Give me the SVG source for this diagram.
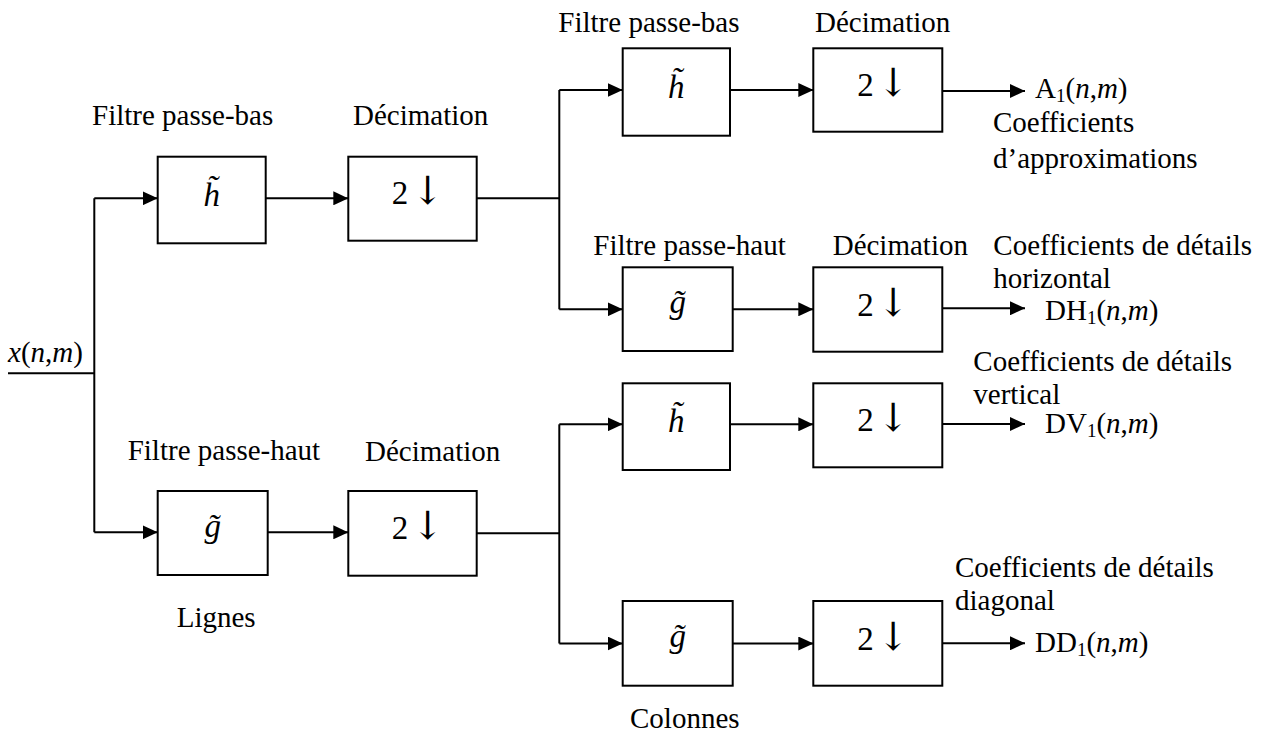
<svg xmlns="http://www.w3.org/2000/svg" width="1266" height="743" viewBox="0 0 1266 743">
<style>
text{font-family:"Liberation Serif","Times New Roman",serif;font-size:29px;fill:#000}
.i{font-style:italic}
.sub{font-size:19px}
.box{fill:#fff;stroke:#000;stroke-width:2}
.ln{fill:none;stroke:#000;stroke-width:2}
.sym{text-anchor:middle;font-size:33px}
.dec{font-size:33px}
.arr{font-family:"DejaVu Serif",serif;font-size:39px}
</style>
<defs>
<marker id="ah" markerWidth="15" markerHeight="14" refX="15" refY="7" orient="auto" markerUnits="userSpaceOnUse">
<path d="M0,0 L15,7 L0,14 Z" fill="#000"/>
</marker>
</defs>
<g id="connectors">
<path class="ln" d="M8,373.3 H94.3"/>
<path class="ln" d="M94.3,198.3 V532.3"/>
<path class="ln" d="M94.3,198.3 H157.7" marker-end="url(#ah)"/>
<path class="ln" d="M94.3,532.3 H157.7" marker-end="url(#ah)"/>
<path class="ln" d="M265.7,198.3 H348.3" marker-end="url(#ah)"/>
<path class="ln" d="M267.7,532.3 H348.3" marker-end="url(#ah)"/>
<path class="ln" d="M476.7,198.3 H559.3"/>
<path class="ln" d="M559.3,90 V309.3"/>
<path class="ln" d="M559.3,90 H622.7" marker-end="url(#ah)"/>
<path class="ln" d="M559.3,309.3 H622.7" marker-end="url(#ah)"/>
<path class="ln" d="M476.7,533.3 H559.3"/>
<path class="ln" d="M559.3,424.3 V643.5"/>
<path class="ln" d="M559.3,424.3 H622.7" marker-end="url(#ah)"/>
<path class="ln" d="M559.3,643.5 H622.7" marker-end="url(#ah)"/>
<path class="ln" d="M730,90 H813.3" marker-end="url(#ah)"/>
<path class="ln" d="M732.7,309.3 H813.3" marker-end="url(#ah)"/>
<path class="ln" d="M730,424.3 H813.3" marker-end="url(#ah)"/>
<path class="ln" d="M732.7,643.5 H813.3" marker-end="url(#ah)"/>
<path class="ln" d="M942.3,91 H1025" marker-end="url(#ah)"/>
<path class="ln" d="M942.3,308.3 H1025" marker-end="url(#ah)"/>
<path class="ln" d="M942.3,424 H1025" marker-end="url(#ah)"/>
<path class="ln" d="M942.3,643.3 H1025" marker-end="url(#ah)"/>
</g>
<g id="input">
<text x="8" y="362"><tspan class="i">x</tspan>(<tspan class="i">n</tspan>,<tspan class="i">m</tspan>)</text>
</g>
<g id="h1">
<text x="92" y="125">Filtre passe-bas</text>
<rect class="box" x="157.7" y="156.7" width="108" height="86.6"/>
<text class="sym i" x="211.7" y="206">h̃</text>
</g>
<g id="d1">
<text x="353" y="125">Décimation</text>
<rect class="box" x="348.3" y="156.7" width="128.4" height="84"/>
<text class="dec" x="391.7" y="204">2<tspan class="arr" dx="3">↓</tspan></text>
</g>
<g id="g1">
<text x="127.7" y="460">Filtre passe-haut</text>
<rect class="box" x="157.7" y="491" width="110" height="84"/>
<text class="sym i" x="212.7" y="537">g̃</text>
<text x="176.7" y="626.7">Lignes</text>
</g>
<g id="d2">
<text x="365" y="461">Décimation</text>
<rect class="box" x="348.3" y="491" width="128.4" height="84.7"/>
<text class="dec" x="391.7" y="539">2<tspan class="arr" dx="3">↓</tspan></text>
</g>
<g id="h2">
<text x="558.3" y="31.7">Filtre passe-bas</text>
<rect class="box" x="622.7" y="48.3" width="107.3" height="87.4"/>
<text class="sym i" x="676.3" y="98">h̃</text>
</g>
<g id="d3">
<text x="815" y="32">Décimation</text>
<rect class="box" x="813.3" y="48.3" width="129" height="83.4"/>
<text class="dec" x="857.3" y="96">2<tspan class="arr" dx="3">↓</tspan></text>
</g>
<g id="g2">
<text x="593.3" y="255">Filtre passe-haut</text>
<rect class="box" x="622.7" y="267.3" width="110" height="83.7"/>
<text class="sym i" x="677.7" y="313">g̃</text>
</g>
<g id="d4">
<text x="832.7" y="255">Décimation</text>
<rect class="box" x="813.3" y="267.3" width="129" height="84.4"/>
<text class="dec" x="857.3" y="316">2<tspan class="arr" dx="3">↓</tspan></text>
</g>
<g id="h3">
<rect class="box" x="622.7" y="383.3" width="107.3" height="86.7"/>
<text class="sym i" x="676.3" y="432">h̃</text>
</g>
<g id="d5">
<rect class="box" x="813.3" y="383.3" width="129" height="84"/>
<text class="dec" x="857.3" y="431">2<tspan class="arr" dx="3">↓</tspan></text>
</g>
<g id="g3">
<rect class="box" x="622.7" y="601" width="110" height="84.7"/>
<text class="sym i" x="677.7" y="647">g̃</text>
<text x="630" y="728">Colonnes</text>
</g>
<g id="d6">
<rect class="box" x="813.3" y="601" width="129" height="84.7"/>
<text class="dec" x="857.3" y="650">2<tspan class="arr" dx="3">↓</tspan></text>
</g>
<g id="out-a">
<text x="1035" y="98">A<tspan class="sub" dy="4">1</tspan><tspan dy="-4">(</tspan><tspan class="i">n</tspan>,<tspan class="i">m</tspan>)</text>
<text x="993" y="131.7">Coefficients</text>
<text x="993" y="167.7">d’approximations</text>
</g>
<g id="out-dh">
<text x="993.3" y="255">Coefficients de détails</text>
<text x="993.3" y="288">horizontal</text>
<text x="1045" y="320">DH<tspan class="sub" dy="4">1</tspan><tspan dy="-4">(</tspan><tspan class="i">n</tspan>,<tspan class="i">m</tspan>)</text>
</g>
<g id="out-dv">
<text x="973.3" y="370.7">Coefficients de détails</text>
<text x="973.3" y="404">vertical</text>
<text x="1045" y="433.3">DV<tspan class="sub" dy="4">1</tspan><tspan dy="-4">(</tspan><tspan class="i">n</tspan>,<tspan class="i">m</tspan>)</text>
</g>
<g id="out-dd">
<text x="955" y="576.7">Coefficients de détails</text>
<text x="955" y="610">diagonal</text>
<text x="1035" y="651.7">DD<tspan class="sub" dy="4">1</tspan><tspan dy="-4">(</tspan><tspan class="i">n</tspan>,<tspan class="i">m</tspan>)</text>
</g>
</svg>
